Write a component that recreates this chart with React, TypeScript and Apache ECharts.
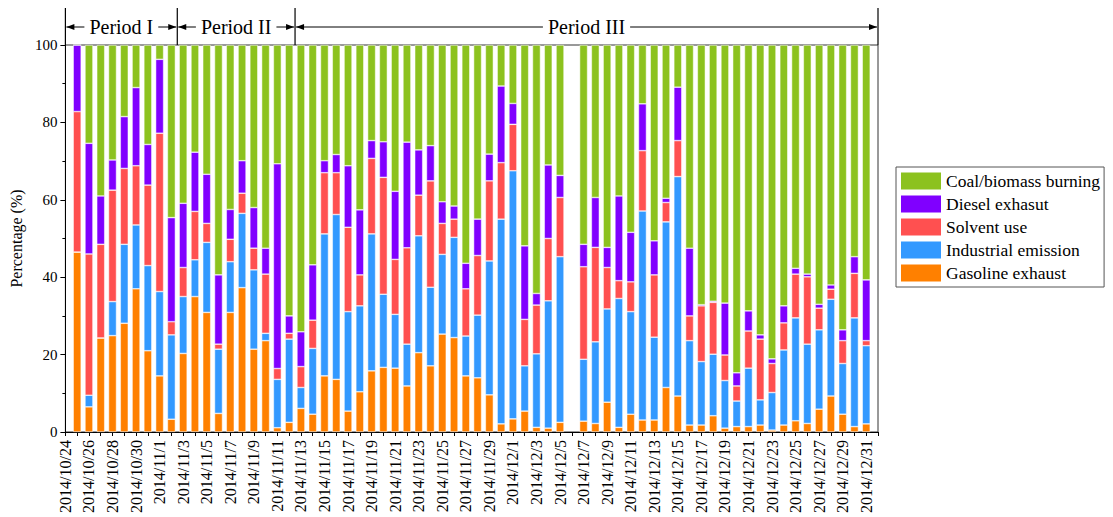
import React, { useEffect, useRef } from "react";
import * as echarts from "echarts";

const FONT = "Liberation Serif";

// Daily categories (axis starts at 2014/10/24, ends at 2015/1/1; bars on 10/25..12/31)
const categories = [
  "2014/10/24", "2014/10/25", "2014/10/26", "2014/10/27", "2014/10/28", "2014/10/29", "2014/10/30", "2014/10/31",
  "2014/11/1", "2014/11/2", "2014/11/3", "2014/11/4", "2014/11/5", "2014/11/6", "2014/11/7", "2014/11/8",
  "2014/11/9", "2014/11/10", "2014/11/11", "2014/11/12", "2014/11/13", "2014/11/14", "2014/11/15", "2014/11/16",
  "2014/11/17", "2014/11/18", "2014/11/19", "2014/11/20", "2014/11/21", "2014/11/22", "2014/11/23", "2014/11/24",
  "2014/11/25", "2014/11/26", "2014/11/27", "2014/11/28", "2014/11/29", "2014/11/30",
  "2014/12/1", "2014/12/2", "2014/12/3", "2014/12/4", "2014/12/5", "2014/12/6", "2014/12/7", "2014/12/8",
  "2014/12/9", "2014/12/10", "2014/12/11", "2014/12/12", "2014/12/13", "2014/12/14", "2014/12/15", "2014/12/16",
  "2014/12/17", "2014/12/18", "2014/12/19", "2014/12/20", "2014/12/21", "2014/12/22", "2014/12/23", "2014/12/24",
  "2014/12/25", "2014/12/26", "2014/12/27", "2014/12/28", "2014/12/29", "2014/12/30", "2014/12/31", "2015/1/1",
];

// Values for 2014/10/25 .. 2014/12/31 (null = no sample)
const gasoline = [
  46.5, 6.5, 24.3, 24.9, 28.1, 37, 21, 14.5, 3.3, 20.3, 35, 30.9, 4.8, 30.9, 37.3, 21.4, 23.6, 1.1, 2.5,
  6.1, 4.6, 14.5, 13.6, 5.4, 10.4, 15.8, 16.7, 16.5, 11.9, 20.5, 17.1, 25.3, 24.4, 14.5, 14, 9.6, 2.1,
  3.4, 5.4, 1.2, 1, 2.5, null, 2.8, 2.2, 7.7, 1.2, 4.6, 3.1, 3.1, 11.5, 9.3, 1.8, 1.8, 4.2, 1, 1.4, 1.4,
  1.8, 0.5, 1.8, 2.9, 2.2, 5.9, 9.3, 4.6, 1.4, 2.1,
];
const industrial = [
  0, 3.0, 0, 8.8, 20.4, 16.5, 22, 21.8, 21.8, 14.7, 9.5, 18.1, 16.6, 13.1, 19.2, 20.5, 1.9, 12.5, 21.5,
  5.4, 17, 36.7, 42.6, 25.7, 22.2, 35.4, 18.9, 13.9, 10.8, 30.2, 20.3, 20.6, 25.9, 10.3, 16.2, 34.6, 52.9,
  64.1, 11.7, 19, 32.9, 42.8, null, 16, 21.1, 24.1, 33.3, 26.5, 54, 21.4, 42.8, 56.7, 21.8, 16.4, 15.9, 12.3, 6.6, 15.1,
  6.5, 9.7, 19.4, 26.6, 20.5, 20.5, 25, 13.1, 28.1, 20.2,
];
const solvent = [
  36.3, 36.5, 24.2, 28.8, 19.6, 15.3, 20.8, 40.9, 3.4, 7.5, 12.5, 4.9, 1.3, 5.8, 5.2, 5.6, 15.3, 2.8, 1.5,
  5.4, 7.3, 15.8, 10.8, 21.8, 8, 19.5, 30.2, 14.2, 24.9, 10.5, 27.5, 8, 4.7, 12.2, 15.4, 20.7, 14.6,
  12, 12, 12.6, 16.1, 15.3, null, 23.9, 24.4, 10.7, 4.6, 7.7, 15.6, 16.1, 5, 9.3, 6.4, 14.4, 13.4, 6.6, 3.9, 9.6,
  15.7, 7.5, 7, 11.3, 17.4, 5.6, 2.6, 5.9, 11.5, 1.3,
];
const diesel = [
  17.2, 28.6, 12.5, 7.8, 13.4, 20.2, 10.5, 19.1, 26.9, 16.6, 15.3, 12.7, 17.9, 7.7, 8.4, 10.5, 6.7, 52.9, 4.5,
  9, 14.3, 3.1, 4.7, 15.9, 16.8, 4.6, 9.2, 17.6, 27.3, 11.7, 9.1, 5.6, 3.4, 6.6, 9.4, 6.9, 19.8,
  5.4, 19, 3, 19, 5.7, null, 5.8, 12.9, 5.2, 21.9, 12.8, 12.1, 8.8, 1.1, 13.8, 17.5, 0.3, 0.3, 13.4, 3.4, 5.2,
  1.1, 1.2, 4.4, 1.5, 0.7, 1, 1.1, 2.8, 4.3, 15.7,
];
const coal = [
  0, 25.4, 39, 29.7, 18.5, 11, 25.7, 3.7, 44.6, 40.9, 27.7, 33.4, 59.4, 42.5, 29.9, 42, 52.5, 30.7, 70,
  74.1, 56.8, 29.9, 28.3, 31.2, 42.6, 24.7, 25, 37.8, 25.1, 27.1, 26, 40.5, 41.6, 56.4, 45, 28.2, 10.6,
  15.1, 51.9, 64.2, 31, 33.7, null, 51.5, 39.4, 52.3, 39, 48.4, 15.2, 50.6, 39.6, 10.9, 52.5, 67.1, 66.2, 66.7, 84.7, 68.7,
  74.9, 81.1, 67.4, 57.7, 59.2, 67, 62, 73.6, 54.7, 60.7,
];

const seriesNames = ["Gasoline exhaust", "Industrial emission", "Solvent use", "Diesel exhasut", "Coal/biomass burning"];
const seriesColors = ["#FF8000", "#3399FF", "#FF5050", "#8000FF", "#8CC21E"];
const legendOrder = ["Coal/biomass burning", "Diesel exhasut", "Solvent use", "Industrial emission", "Gasoline exhaust"];

const periodLabels = ["Period I", "Period II", "Period III"];
// boundaries between periods: [last day of previous, first day of next]
const periodBreaks = [
  ["2014/11/2", "2014/11/3"],
  ["2014/11/12", "2014/11/13"],
];

export default function App() {
  const ref = useRef<HTMLDivElement>(null);

  useEffect(() => {
    const chart = echarts.init(ref.current!, null, { renderer: "svg" });
    const pad = (arr: (number | null)[]) => ["-", ...arr.map((v) => (v == null ? "-" : v)), "-"];
    const dataSets = [gasoline, industrial, solvent, diesel, coal];

    chart.setOption({
      animation: false,
      backgroundColor: "#ffffff",
      textStyle: { fontFamily: FONT },
      grid: {
        left: 65,
        right: 235,
        top: 45,
        bottom: 85,
        show: true,
        borderColor: "#333",
        borderWidth: 1,
        backgroundColor: "transparent",
      },
      legend: {
        orient: "vertical",
        left: 896,
        top: 167,
        data: legendOrder,
        icon: "rect",
        itemWidth: 40,
        itemHeight: 17,
        itemGap: 5,
        padding: [5, 4, 5, 5],
        borderColor: "#555",
        borderWidth: 1,
        itemStyle: { borderWidth: 0 },
        textStyle: { fontSize: 17.5, fontFamily: FONT, color: "#000" },
      },
      xAxis: {
        type: "category",
        data: categories,
        boundaryGap: false,
        axisLine: { lineStyle: { color: "#000", width: 1 } },
        axisTick: { interval: 0, length: 4, lineStyle: { color: "#000" } },
        axisLabel: {
          interval: (i: number) => i % 2 === 0 && i < categories.length - 1,
          rotate: 90,
          fontSize: 16,
          fontFamily: FONT,
          color: "#000",
          margin: 8,
        },
        splitLine: { show: false },
      },
      yAxis: {
        type: "value",
        min: 0,
        max: 100,
        interval: 20,
        name: "Percentage (%)",
        nameLocation: "middle",
        nameGap: 40,
        nameTextStyle: { fontSize: 16, fontFamily: FONT, color: "#000" },
        axisLine: { show: true, lineStyle: { color: "#000" } },
        axisTick: { show: true, length: 5, lineStyle: { color: "#000" } },
        minorTick: { show: true, splitNumber: 2, length: 3, lineStyle: { color: "#000" } },
        axisLabel: { fontSize: 15, fontFamily: FONT, color: "#000", margin: 8 },
        splitLine: { show: false },
      },
      series: seriesNames.map((name, k) => ({
        name,
        type: "bar",
        stack: "total",
        barWidth: 8,
        data: pad(dataSets[k]),
        itemStyle: { color: seriesColors[k], borderColor: "rgba(255,255,255,0.85)", borderWidth: 0.6 },
      })),
    });

    // Period annotation above the plot
    const xAt = (c: string) => chart.convertToPixel({ xAxisIndex: 0 }, c) as number;
    const top = chart.convertToPixel({ yAxisIndex: 0 }, 100) as number;
    const left = xAt(categories[0]);
    const right = xAt(categories[categories.length - 1]);
    const bounds = [left, ...periodBreaks.map(([a, b]) => (xAt(a) + xAt(b)) / 2), right];
    const ctx = document.createElement("canvas").getContext("2d")!;
    ctx.font = `20px "${FONT}"`;
    const ay = top - 18;
    const graphics: any[] = [];
    bounds.forEach((x) => {
      graphics.push({
        type: "line",
        shape: { x1: x, y1: top - 37, x2: x, y2: top },
        style: { stroke: "#000", lineWidth: 1.2 },
      });
    });
    periodLabels.forEach((label, i) => {
      const a = bounds[i];
      const b = bounds[i + 1];
      const mid = (a + b) / 2;
      const w = ctx.measureText(label).width;
      graphics.push({
        type: "text",
        style: {
          text: label, x: mid, y: ay, fontSize: 20, fontFamily: FONT, fill: "#000",
          textAlign: "center", textVerticalAlign: "middle",
        },
      });
      graphics.push({
        type: "line",
        shape: { x1: a + 1, y1: ay, x2: mid - w / 2 - 5, y2: ay },
        style: { stroke: "#000", lineWidth: 1 },
      });
      graphics.push({
        type: "line",
        shape: { x1: mid + w / 2 + 5, y1: ay, x2: b - 1, y2: ay },
        style: { stroke: "#000", lineWidth: 1 },
      });
      graphics.push({
        type: "polygon",
        shape: { points: [[a + 1, ay], [a + 9, ay - 3], [a + 9, ay + 3]] },
        style: { fill: "#000" },
      });
      graphics.push({
        type: "polygon",
        shape: { points: [[b - 1, ay], [b - 9, ay - 3], [b - 9, ay + 3]] },
        style: { fill: "#000" },
      });
    });
    chart.setOption({ graphic: graphics });

    return () => chart.dispose();
  }, []);

  return <div ref={ref} style={{ position: "fixed", left: 0, top: 0, width: 1113, height: 517 }} />;
}
